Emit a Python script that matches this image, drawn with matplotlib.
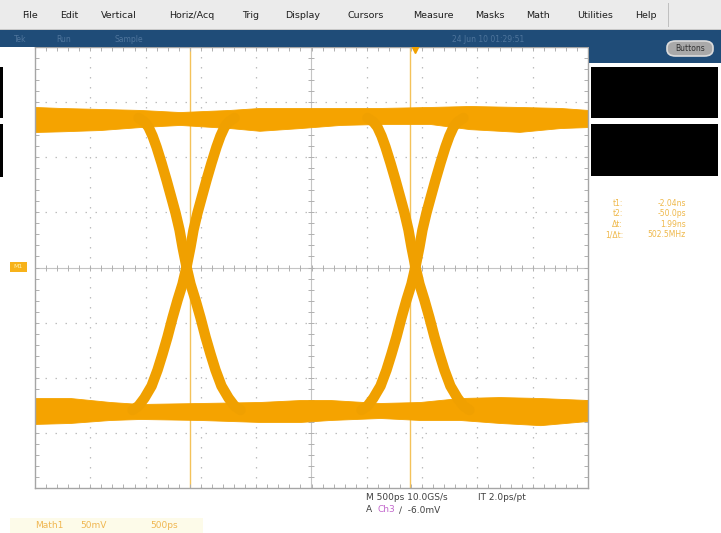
#!/usr/bin/env python3

import matplotlib
matplotlib.use("Agg")
import matplotlib.pyplot as plt
from matplotlib.patches import Rectangle, FancyBboxPatch
import numpy as np

# eye diagram screenshot: Math1 50mV/div, 500ps/div

W, H = 721, 533

menu_items = ["File", "Edit", "Vertical", "Horiz/Acq", "Trig", "Display",
              "Cursors", "Measure", "Masks", "Math", "Utilities", "Help"]

# top rail band (time ns, upper / lower edge mV)
rail_top_t = [-3.44, -3.21, -2.85, -2.49, -2.13, -1.68, -1.41, -1.04,
              -0.68, -0.32, 0.13, 0.49, 0.94, 1.31, 1.56]
rail_top_hi = [145.6, 144.7, 143.8, 142.9, 141.0, 142.9, 144.7, 144.7,
               144.7, 144.7, 145.6, 146.5, 145.6, 144.7, 142.9]
rail_top_lo = [122.9, 123.5, 124.7, 127.4, 129.3, 126.5, 124.0, 126.5,
               129.3, 130.2, 130.2, 125.5, 123.0, 126.5, 127.4]

# bottom rail band
rail_bot_t = [-3.44, -3.12, -2.76, -2.49, -1.95, -1.41, -1.04, -0.77,
              -0.32, 0.04, 0.40, 0.76, 1.13, 1.56]
rail_bot_hi = [-118.4, -118.4, -122.0, -123.8, -122.9, -122.0, -120.2,
               -120.2, -122.9, -122.0, -118.4, -117.5, -118.4, -120.2]
rail_bot_lo = [-141.9, -141.0, -138.3, -137.4, -138.3, -140.1, -140.1,
               -138.3, -136.5, -138.3, -138.3, -141.0, -143.0, -139.2]

# falling edge shape around a crossing (ns offset, mV)
edge_dt = [-0.434, -0.380, -0.344, -0.307, -0.271, -0.226, -0.181, -0.136,
           -0.099, -0.063, -0.036, 0.0, 0.036, 0.081, 0.127, 0.172, 0.217,
           0.262, 0.316, 0.380, 0.434, 0.488]
edge_v = [135.6, 132.0, 127.4, 119.3, 109.3, 94.8, 79.4, 63.0,
          49.4, 34.0, 18.6, 0.5, -15.0, -29.5, -45.8, -63.0, -78.5,
          -93.0, -107.5, -118.4, -125.6, -129.3]

crossing_t = [-2.07, 0.0]
cursor_t = [-2.04, -0.05]

readout_labels = ["t1:", "t2:", "\u0394t:", "1/\u0394t:"]
readout_values = ["-2.04ns", "-50.0ps", "1.99ns", "502.5MHz"]

TRACE = "#f5a300"
EDGE = "#f0a000"
CURSOR = "#f4c25a"
GRID = "#bdbdbd"


def fx(x):
    return x / W


def fy(y):
    return 1 - y / H


def box(fig, x0, y0, x1, y1, color, **kw):
    fig.patches.append(Rectangle((fx(x0), fy(y1)), (x1 - x0) / W, (y1 - y0) / H,
                                 transform=fig.transFigure, facecolor=color,
                                 edgecolor=kw.pop("edgecolor", "none"), **kw))


def main():
    fig = plt.figure(figsize=(W / 100, H / 100), dpi=100)
    fig.patch.set_facecolor("white")

    # menu bar
    box(fig, 0, 0, W, 30, "#ebebeb")
    box(fig, 0, 29, W, 30, "#c8c8c8")
    box(fig, 668, 3, 669, 27, "#c0c0c0")
    menu_x = [30, 69, 119, 192, 251, 303, 366, 433, 490, 538, 595, 646]
    for name, x in zip(menu_items, menu_x):
        fig.text(fx(x), fy(16), name, ha="center", va="center",
                 fontsize=6.8, color="#1e1e1e")

    # status bar
    box(fig, 0, 30, W, 47, "#1f4c78")
    box(fig, 589, 47, W, 63, "#1f4c78")
    for s, x in [("Tek", 14), ("Run", 56), ("Sample", 114),
                 ("24 Jun 10 01:29:51", 452)]:
        fig.text(fx(x), fy(39), s, ha="left", va="center", fontsize=5.5,
                 color="#4f759c")
    fig.patches.append(FancyBboxPatch((fx(667), fy(56)), 46 / W, 15 / H,
                                      boxstyle="round,pad=0,rounding_size=0.012",
                                      transform=fig.transFigure,
                                      facecolor="#a9a9a9", edgecolor="#dcdcdc",
                                      lw=1.2))
    fig.text(fx(690), fy(48.5), "Buttons", ha="center", va="center",
             fontsize=5.5, color="#303030")

    # black panels
    box(fig, 591, 67, 718, 118, "black")
    box(fig, 591, 124, 718, 176, "black")
    box(fig, 0, 67, 3, 118, "black")
    box(fig, 0, 124, 3, 177, "black")

    # graticule
    ax = fig.add_axes([fx(35), fy(488), 553 / W, 441 / H])
    x0, x1 = -3.44, 1.56
    ax.set_xlim(x0, x1)
    ax.set_ylim(-200, 200)
    ax.set_facecolor("white")
    for sp in ax.spines.values():
        sp.set_color("#a5a5a5")
        sp.set_linewidth(1)
    ax.set_xticks([])
    ax.set_yticks([])
    ax.set_xticks(np.arange(x0, x1 + 0.01, 0.1), minor=True)
    ax.set_yticks(np.arange(-200, 201, 10), minor=True)
    ax.tick_params(which="minor", direction="in", length=3, width=0.7,
                   color="#b0b0b0", top=True, right=True,
                   labelbottom=False, labelleft=False)

    xc = x0 + 2.5
    for k in range(1, 10):
        if k == 5:
            continue
        ax.axvline(x0 + 0.5 * k, color=GRID, lw=0.9, ls=(0, (1.2, 6.8)), zorder=0)
    for k in range(1, 8):
        if k == 4:
            continue
        ax.axhline(-200 + 50 * k, color=GRID, lw=0.9, ls=(0, (1.2, 6.8)), zorder=0)
    ax.axvline(xc, color="#c4c4c4", lw=0.8, zorder=0)
    ax.axhline(0, color="#c4c4c4", lw=0.8, zorder=0)
    tx = np.arange(x0, x1 + 0.01, 0.1)
    ty = np.arange(-200, 201, 10)
    ax.plot(tx, np.zeros_like(tx), ls="none", marker="|", ms=4, mew=0.7,
            color="#b0b0b0", zorder=0)
    ax.plot(np.full_like(ty, xc, dtype=float), ty, ls="none", marker="_",
            ms=4, mew=0.7, color="#b0b0b0", zorder=0)

    # cursors
    for t in cursor_t:
        ax.axvline(t, color=CURSOR, lw=1.0, zorder=1)

    # eye
    ax.fill_between(rail_top_t, rail_top_lo, rail_top_hi, color=TRACE, lw=0.6,
                    edgecolor=TRACE, zorder=2)
    ax.fill_between(rail_bot_t, rail_bot_lo, rail_bot_hi, color=TRACE, lw=0.6,
                    edgecolor=TRACE, zorder=2)
    dt = np.array(edge_dt)
    for tc in crossing_t:
        ax.plot(tc + dt, edge_v, color=EDGE, lw=7.5, solid_capstyle="round",
                solid_joinstyle="round", zorder=3)
        ax.plot(tc - dt, edge_v, color=EDGE, lw=7.5, solid_capstyle="round",
                solid_joinstyle="round", zorder=3)

    # trigger marker
    ax.plot([0], [198], marker="v", ms=6, color="#f0a000", clip_on=False,
            zorder=5)

    # M1 ground marker
    box(fig, 10, 262, 27, 272, "#f7b21a")
    fig.text(fx(18.5), fy(267), "M1", ha="center", va="center", fontsize=4.5,
             color="#fff2b0")

    # cursor readouts
    for i, (lab, val) in enumerate(zip(readout_labels, readout_values)):
        y = 203 + 10.5 * i
        fig.text(fx(623), fy(y), lab, ha="right", va="center", fontsize=5.5,
                 color="#efb84a")
        fig.text(fx(686), fy(y), val, ha="right", va="center", fontsize=5.5,
                 color="#efb84a")

    # horizontal / trigger info
    fig.text(fx(366), fy(497), "M 500ps 10.0GS/s", ha="left", va="center",
             fontsize=6.5, color="#404040")
    fig.text(fx(478), fy(497), "IT 2.0ps/pt", ha="left", va="center",
             fontsize=6.5, color="#404040")
    fig.text(fx(366), fy(510), "A", ha="left", va="center", fontsize=6.5,
             color="#404040")
    fig.text(fx(378), fy(510), "Ch3", ha="left", va="center", fontsize=6.5,
             color="#c266cc")
    fig.text(fx(399), fy(510), "\u2215  -6.0mV", ha="left", va="center",
             fontsize=6.5, color="#404040")

    # math readout
    box(fig, 10, 518, 203, 533, "#fdfbe9")
    for s, x in [("Math1", 35), ("50mV", 80), ("500ps", 150)]:
        fig.text(fx(x), fy(525), s, ha="left", va="center", fontsize=6.5,
                 color="#f0b650")

    fig.savefig("out.png", dpi=100, facecolor="white")


if __name__ == "__main__":
    main()
